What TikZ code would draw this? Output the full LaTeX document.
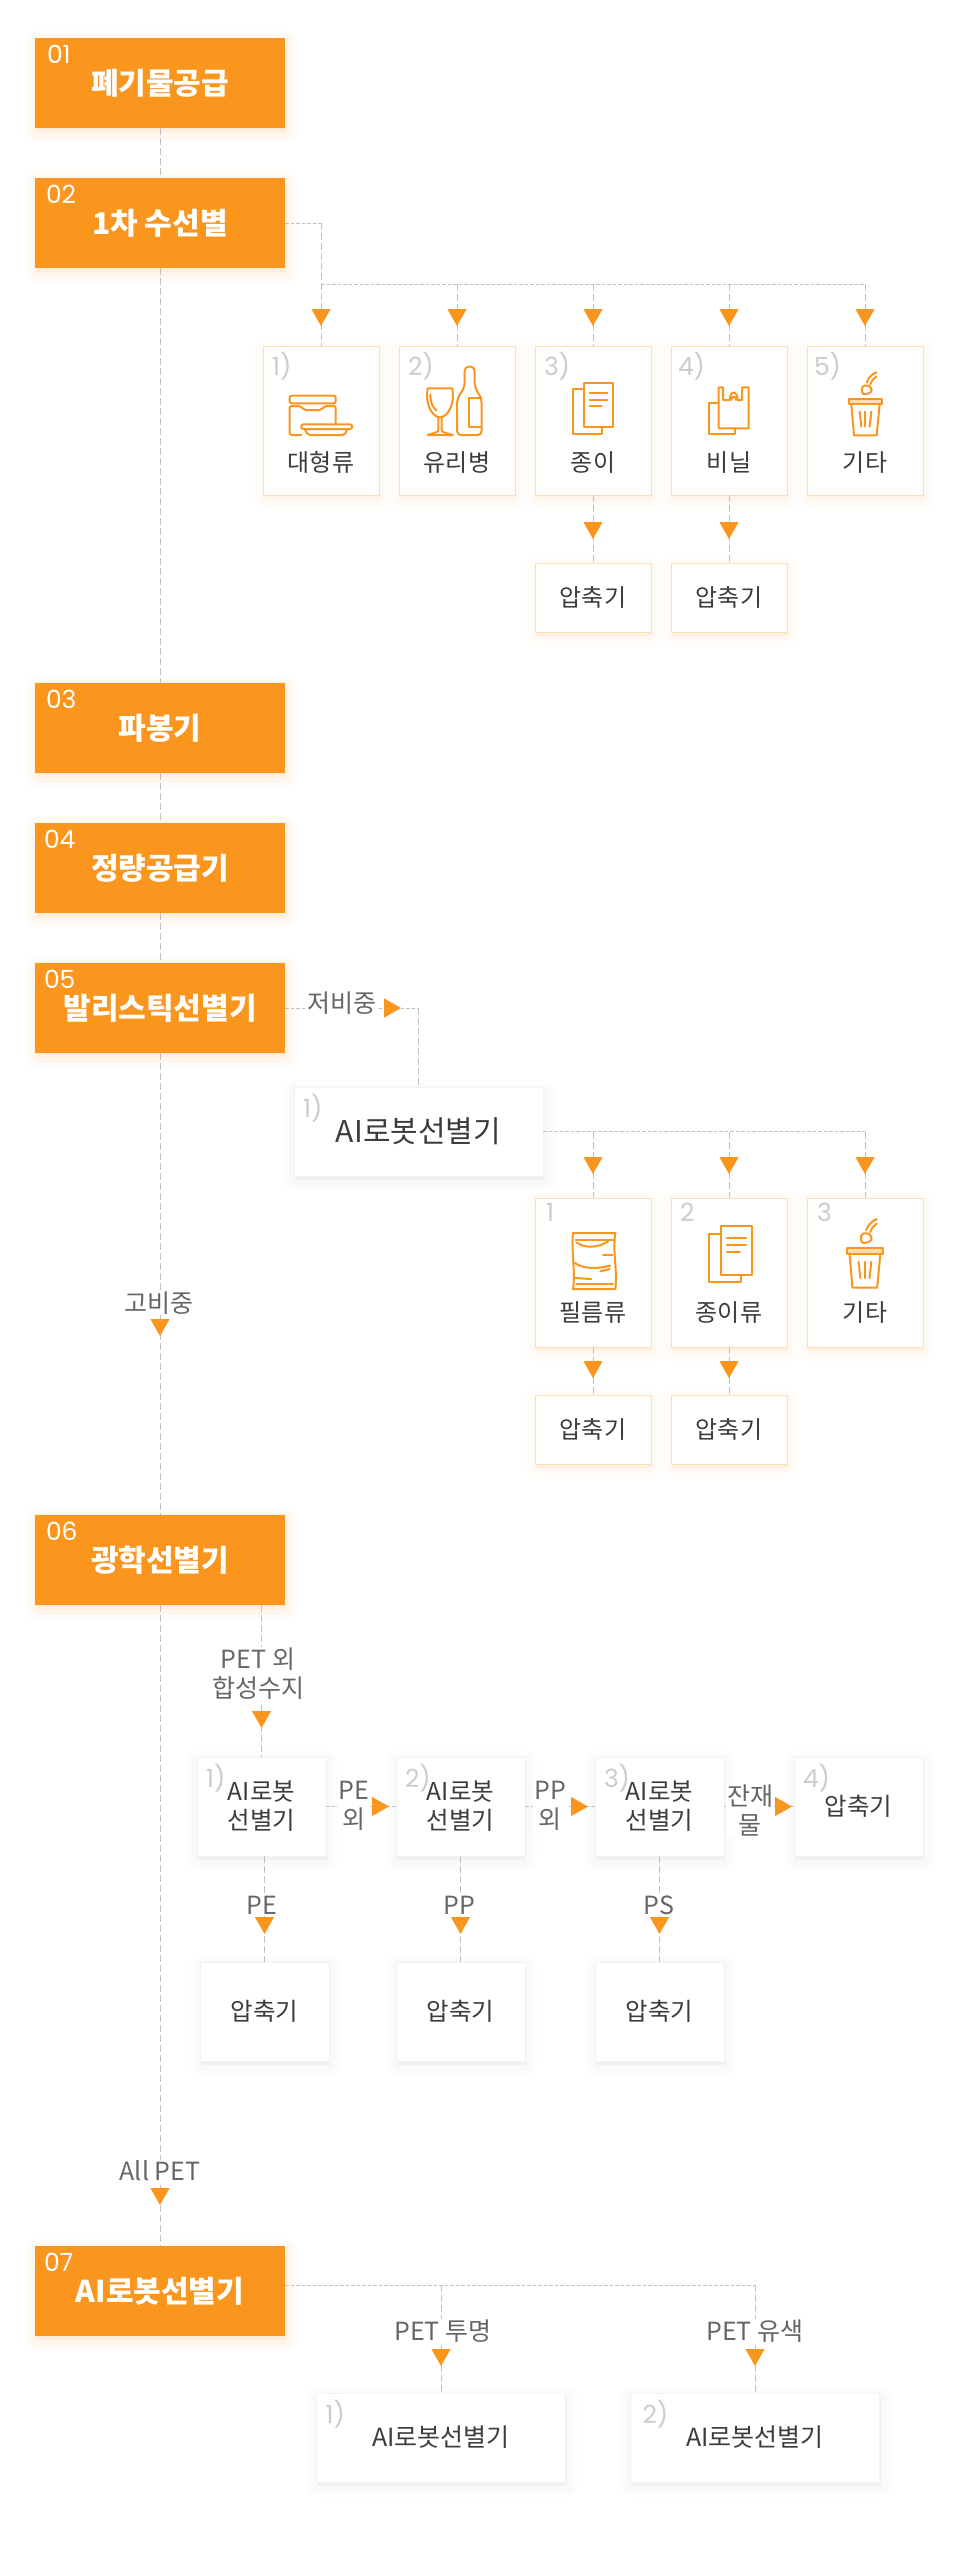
\documentclass[tikz,border=0pt]{standalone}
\usepackage{fontspec}
\setmainfont{Noto Sans CJK KR}
\newfontfamily\numfont{Poppins}
\usepackage{tikz}
\usetikzlibrary{arrows.meta}
\usetikzlibrary{positioning}
\usetikzlibrary{decorations.markings}
\definecolor{step_orange}{HTML}{FA951E}
\definecolor{peach_line}{HTML}{FFDDB3}
\definecolor{soft_line}{HTML}{F2F2F2}
\definecolor{dash_gray}{HTML}{C0C0C0}
\definecolor{num_gray}{HTML}{CCCCCC}
\definecolor{dark_text}{HTML}{3C3C3C}
\definecolor{label_text}{HTML}{666666}
\definecolor{shade_peach}{HTML}{FFB766}
\definecolor{shade_gray}{HTML}{999999}
\tikzset{
    shade_layer/.style n args={3}{
        preaction={draw=#1, fill=#1, opacity=#2, line width=#3, line join=round, transform canvas={xshift=1pt, yshift=-4pt}}
    },
    soft_shadow/.style 2 args={
        shade_layer={#1}{#2}{22pt},
        shade_layer={#1}{#2}{17pt},
        shade_layer={#1}{#2}{12pt},
        shade_layer={#1}{#2}{7pt},
        shade_layer={#1}{#2}{2pt}
    },
    icon_line/.style={
        draw=step_orange,
        line width=2pt,
        line join=round,
        line cap=round
    },
    icon_food/.pic={
        \begin{scope}[scale=1/3, icon_line]
            \draw[rounded corners=2pt] (80,149) rectangle (218,172);
            \draw[rounded corners=2pt] (115,267) -- (80,267) -- (80,180) -- (113,180) -- (123,192) -- (175,192) -- (185,180) -- (218,180) -- (218,235);
            \draw[rounded corners=2pt] (115,235) rectangle (267,249);
            \draw[rounded corners=2pt] (125,249) -- (135,267) -- (245,267) -- (253,249);
            \draw (162,248) -- (168,248);
            \draw (180,248) -- (250,248);
        \end{scope}
    },
    icon_bottle/.pic={
        \begin{scope}[scale=1/3, icon_line]
            \draw (86,127) -- (160,127) .. controls (168,170) and (150,212) .. (123,214) .. controls (96,212) and (78,170) .. (86,127) -- cycle;
            \draw (118,214) -- (118,252) .. controls (118,260) and (100,262) .. (86,267) -- (162,267) .. controls (146,262) and (128,260) .. (128,252) -- (128,214);
            \draw (94,145) .. controls (94,170) and (102,185) .. (112,193);
            \draw[rounded corners=4pt] (197,62) -- (227,62) -- (227,122) -- (248,160) -- (248,267) -- (174,267) -- (174,160) -- (197,122) -- cycle;
            \draw (248,157) -- (210,157) -- (210,242) -- (248,242);
        \end{scope}
    },
    icon_paper/.pic={
        \begin{scope}[scale=1/3, icon_line]
            \draw (148,130) -- (114,130) -- (114,264) -- (202,264) -- (202,244);
            \draw (148,110) rectangle (234,244);
            \draw (164,142) -- (217,142);
            \draw (164,161) -- (217,161);
            \draw (164,180) -- (200,180);
        \end{scope}
    },
    icon_bag/.pic={
        \begin{scope}[scale=1/3, icon_line]
            \draw (143,124) -- (156,124) -- (156,162) -- (176,162) .. controls (178,132) and (198,132) .. (200,162) -- (213,162) -- (213,124) -- (233,124) -- (233,247) -- (143,247) -- cycle;
            \draw (181,162) .. controls (182,148) and (194,148) .. (195,162);
            \draw (143,170) -- (114,170) -- (114,265) -- (191,265) -- (191,247);
        \end{scope}
    },
    icon_trash/.pic={
        \begin{scope}[scale=1/3, icon_line]
            \draw[fill=peach_line] (127,160) rectangle (225,174);
            \draw (133,174) -- (141,268) -- (209,268) -- (218,174);
            \draw (158,197) -- (163,242);
            \draw (175,197) -- (175,242);
            \draw (193,197) -- (188,242);
            \draw[rounded corners=3pt] (164,120) -- (166,147) -- (194,140) -- (194,125) -- (182,117) -- cycle;
            \draw (179,110) .. controls (184,95) and (195,84) .. (208,79);
            \draw (190,115) .. controls (194,104) and (200,96) .. (208,92);
        \end{scope}
    },
    icon_film/.pic={
        \begin{scope}[scale=1/3, icon_line]
            \draw (114,105) -- (241,105) .. controls (232,160) and (248,220) .. (241,273) -- (114,273) .. controls (122,220) and (108,160) .. (114,105) -- cycle;
            \draw (122,125) -- (238,125);
            \draw (124,133) .. controls (150,152) and (190,150) .. (219,130);
            \draw (204,170) -- (232,170);
            \draw (119,195) .. controls (150,215) and (190,212) .. (226,203);
            \draw (196,220) -- (224,213);
            \draw (119,240) -- (169,243);
            \draw (124,259) -- (234,259);
        \end{scope}
    }
}

\begin{document}
\begin{tikzpicture}[
    x=1pt, y=-1pt,
    step_box/.style={rectangle, fill=step_orange, soft_shadow={shade_peach}{.03}, text=white, minimum width=250pt, minimum height=90pt, inner sep=0pt, outer sep=0pt, font=\fontsize{30pt}{34pt}\selectfont\bfseries},
    step_num/.style={inner sep=0pt, outer sep=0pt, text=white, font=\numfont\fontsize{25pt}{28pt}\selectfont},
    item_box/.style={rectangle, draw=peach_line, line width=1pt, fill=white, soft_shadow={shade_peach}{.02}, text=dark_text, minimum width=116pt, text height=125pt, text depth=24pt, inner sep=0pt, outer sep=0pt, font=\fontsize{24pt}{28pt}\selectfont},
    press_box/.style={rectangle, draw=peach_line, line width=1pt, fill=white, soft_shadow={shade_peach}{.02}, text=dark_text, minimum width=116pt, minimum height=69pt, inner sep=0pt, outer sep=0pt, font=\fontsize{24pt}{28pt}\selectfont},
    robot_box/.style={rectangle, draw=soft_line, line width=1pt, fill=white, soft_shadow={shade_gray}{.015}, text=dark_text, minimum width=249pt, minimum height=89pt, inner sep=0pt, outer sep=0pt, font=\fontsize{30pt}{34pt}\selectfont},
    row_box/.style={rectangle, draw=soft_line, line width=1pt, fill=white, soft_shadow={shade_gray}{.015}, text=dark_text, align=center, minimum width=129pt, minimum height=99pt, inner sep=0pt, outer sep=0pt, font=\fontsize{24.5pt}{29pt}\selectfont},
    item_num/.style={inner sep=0pt, outer sep=0pt, text=num_gray, font=\numfont\fontsize{25pt}{28pt}\selectfont},
    flow_text/.style={fill=white, text=label_text, align=center, inner sep=1pt, font=\fontsize{25pt}{29pt}\selectfont},
    flow_line/.style={draw=dash_gray, line width=1pt, dash pattern=on 7pt off 3pt},
    flat_line/.style={draw=dash_gray, line width=1pt, dash pattern=on 3.5pt off 2pt},
    flow_tip/.style={postaction={decorate}, decoration={markings, mark=at position #1 with {\arrow{Triangle[length=17pt,width=19pt,color=step_orange,fill=step_orange]}}}}
]
    \useasboundingbox (0,0) rectangle (958,2550);

    % Steps
    \node (s1) [step_box] at (160,83) {폐기물공급};
    \node (s2) [step_box, below=50pt of s1] {1차 수선별};
    \node (s3) [step_box, below=415pt of s2] {파봉기};
    \node (s4) [step_box, below=50pt of s3] {정량공급기};
    \node (s5) [step_box, below=50pt of s4] {발리스틱선별기};
    \node (s6) [step_box, below=462pt of s5] {광학선별기};
    \node (s7) [step_box, below=641pt of s6] {AI로봇선별기};

    % Step numbers
    \node (n1) [step_num, below right=7pt and 12pt of s1.north west] {01};
    \node (n2) [step_num, below right=7pt and 11pt of s2.north west] {02};
    \node (n3) [step_num, below right=7pt and 11pt of s3.north west] {03};
    \node (n4) [step_num, below right=7pt and 9pt of s4.north west] {04};
    \node (n5) [step_num, below right=7pt and 9pt of s5.north west] {05};
    \node (n6) [step_num, below right=7pt and 11pt of s6.north west] {06};
    \node (n7) [step_num, below right=7pt and 9pt of s7.north west] {07};

    % First sorting
    \node (i1) [item_box] at (321,420.5) {대형류};
    \node (i2) [item_box, right=20pt of i1] {유리병};
    \node (i3) [item_box, right=20pt of i2] {종이};
    \node (i4) [item_box, right=20pt of i3] {비닐};
    \node (i5) [item_box, right=20pt of i4] {기타};
    \node (c3) [press_box, below=68pt of i3] {압축기};
    \node (c4) [press_box, below=68pt of i4] {압축기};
    \node (m1) [item_num, below right=6pt and 9pt of i1.north west] {1)};
    \node (m2) [item_num, below right=6pt and 9pt of i2.north west] {2)};
    \node (m3) [item_num, below right=6pt and 9pt of i3.north west] {3)};
    \node (m4) [item_num, below right=6pt and 7pt of i4.north west] {4)};
    \node (m5) [item_num, below right=6pt and 7pt of i5.north west] {5)};
    \pic at (i1.north west) {icon_food};
    \pic at (i2.north west) {icon_bottle};
    \pic at (i3.north west) {icon_paper};
    \pic at (i4.north west) {icon_bag};
    \pic at (i5.north west) {icon_trash};

    % Ballistic branch
    \node (a5) [robot_box, below right=34pt and 9pt of s5.south east] {AI로봇선별기};
    \node (a5n) [item_num, below right=7pt and 9pt of a5.north west] {1)};
    \node (f1) [item_box, text height=123pt, text depth=26pt] at (593,1272.5) {필름류};
    \node (f2) [item_box, right=20pt of f1, text height=123pt, text depth=26pt] {종이류};
    \node (f3) [item_box, right=20pt of f2, text height=123pt, text depth=26pt] {기타};
    \node (g1) [press_box, below=48pt of f1] {압축기};
    \node (g2) [press_box, below=48pt of f2] {압축기};
    \node (f1n) [item_num, below right=5pt and 11pt of f1.north west] {1};
    \node (f2n) [item_num, below right=5pt and 9pt of f2.north west] {2};
    \node (f3n) [item_num, below right=5pt and 10pt of f3.north west] {3};
    \pic at (f1.north west) {icon_film};
    \pic[xshift=-3.7pt, yshift=11.7pt, scale=1.09] at (f2.north west) {icon_paper};
    \pic[xshift=-5.8pt, yshift=7.7pt, scale=1.09] at (f3.north west) {icon_trash};

    % Optical branch
    \node (r1) [row_box] at (261.5,1806.5) {AI로봇\\선별기};
    \node (r2) [row_box, right=70pt of r1] {AI로봇\\선별기};
    \node (r3) [row_box, right=70pt of r2] {AI로봇\\선별기};
    \node (r4) [row_box, right=70pt of r3] {압축기};
    \node (r1n) [item_num, below right=7pt and 9pt of r1.north west] {1)};
    \node (r2n) [item_num, below right=7pt and 9pt of r2.north west] {2)};
    \node (r3n) [item_num, below right=7pt and 9pt of r3.north west] {3)};
    \node (r4n) [item_num, below right=7pt and 9pt of r4.north west] {4)};
    \node (q1) [row_box, below=106pt of r1, xshift=3pt] {압축기};
    \node (q2) [row_box, below=106pt of r2] {압축기};
    \node (q3) [row_box, below=106pt of r3] {압축기};

    % Last branch
    \node (p1) [robot_box, font=\fontsize{25pt}{29pt}\selectfont] at (441,2437.5) {AI로봇선별기};
    \node (p2) [robot_box, right=65pt of p1, font=\fontsize{25pt}{29pt}\selectfont] {AI로봇선별기};
    \node (p1n) [item_num, below right=7pt and 9pt of p1.north west] {1)};
    \node (p2n) [item_num, below right=7pt and 12pt of p2.north west] {2)};

    % Main line
    \draw[flow_line] (s1) -- (s2);
    \draw[flow_line] (s2) -- (s3);
    \draw[flow_line] (s3) -- (s4);
    \draw[flow_line] (s4) -- (s5);
    \draw[flow_line, flow_tip=-179pt] (s5) -- (s6);
    \draw[flow_line, flow_tip=-41pt] (s6) -- (s7);

    % First sorting lines
    \coordinate (j1) at (i1.north |- 0,284);
    \coordinate (j2) at (i2.north |- j1);
    \coordinate (j3) at (i3.north |- j1);
    \coordinate (j4) at (i4.north |- j1);
    \coordinate (j5) at (i5.north |- j1);
    \draw[flat_line] (s2.east) -- (s2.east -| j1);
    \draw[flow_line, flow_tip=-20pt] (s2.east -| j1) -- (i1.north);
    \draw[flat_line] (j1) -- (j5);
    \draw[flow_line, flow_tip=-20pt] (j2) -- (i2.north);
    \draw[flow_line, flow_tip=-20pt] (j3) -- (i3.north);
    \draw[flow_line, flow_tip=-20pt] (j4) -- (i4.north);
    \draw[flow_line, flow_tip=-20pt] (j5) -- (i5.north);
    \draw[flow_line, flow_tip=-24pt] (i3) -- (c3);
    \draw[flow_line, flow_tip=-24pt] (i4) -- (c4);

    % Ballistic lines
    \coordinate (k5) at (s5.east -| a5.north);
    \draw[flat_line, flow_tip=116pt] (s5.east) -- (k5);
    \draw[flow_line] (k5) -- (a5.north);
    \coordinate (h1) at (f1.north |- a5.east);
    \coordinate (h2) at (f2.north |- a5.east);
    \coordinate (h3) at (f3.north |- a5.east);
    \draw[flat_line] (a5.east) -- (h3);
    \draw[flow_line, flow_tip=-24pt] (h1) -- (f1.north);
    \draw[flow_line, flow_tip=-24pt] (h2) -- (f2.north);
    \draw[flow_line, flow_tip=-24pt] (h3) -- (f3.north);
    \draw[flow_line, flow_tip=-17pt] (f1) -- (g1);
    \draw[flow_line, flow_tip=-17pt] (f2) -- (g2);

    % Optical lines
    \draw[flow_line, flow_tip=-29pt] (r1.north |- s6.south) -- (r1.north);
    \draw[flat_line, flow_tip=-7pt] (r1) -- (r2);
    \draw[flat_line, flow_tip=-7pt] (r2) -- (r3);
    \draw[flat_line, flow_tip=-2pt] (r3) -- (r4);
    \draw[flow_line, flow_tip=-28pt] (q1.north |- r1.south) -- (q1.north);
    \draw[flow_line, flow_tip=-28pt] (r2) -- (q2);
    \draw[flow_line, flow_tip=-28pt] (r3) -- (q3);

    % Last lines
    \coordinate (k7) at ([yshift=6pt]s7.east);
    \coordinate (j6) at (k7 -| p1.north);
    \coordinate (j7) at (k7 -| p2.north);
    \draw[flat_line] (k7) -- (j7);
    \draw[flow_line, flow_tip=-27pt] (j6) -- (p1.north);
    \draw[flow_line, flow_tip=-27pt] (j7) -- (p2.north);

    % Line labels
    \node (t1) [flow_text] at (342,1003) {저비중};
    \node (t2) [flow_text] at (159,1303) {고비중};
    \node (t3) [flow_text] at (258,1674) {PET 외\\합성수지};
    \node (t4) [flow_text] at (354,1806) {PE\\외};
    \node (t5) [flow_text] at (550,1806) {PP\\외};
    \node (t6) [flow_text] at (750,1810) {잔재\\물};
    \node (t7) [flow_text] at (262,1905) {PE};
    \node (t8) [flow_text] at (459,1905) {PP};
    \node (t9) [flow_text] at (659,1905) {PS};
    \node (t10) [flow_text] at (160,2171) {All PET};
    \node (t11) [flow_text] at (443,2331) {PET 투명};
    \node (t12) [flow_text] at (755,2331) {PET 유색};

\end{tikzpicture}
\end{document}
